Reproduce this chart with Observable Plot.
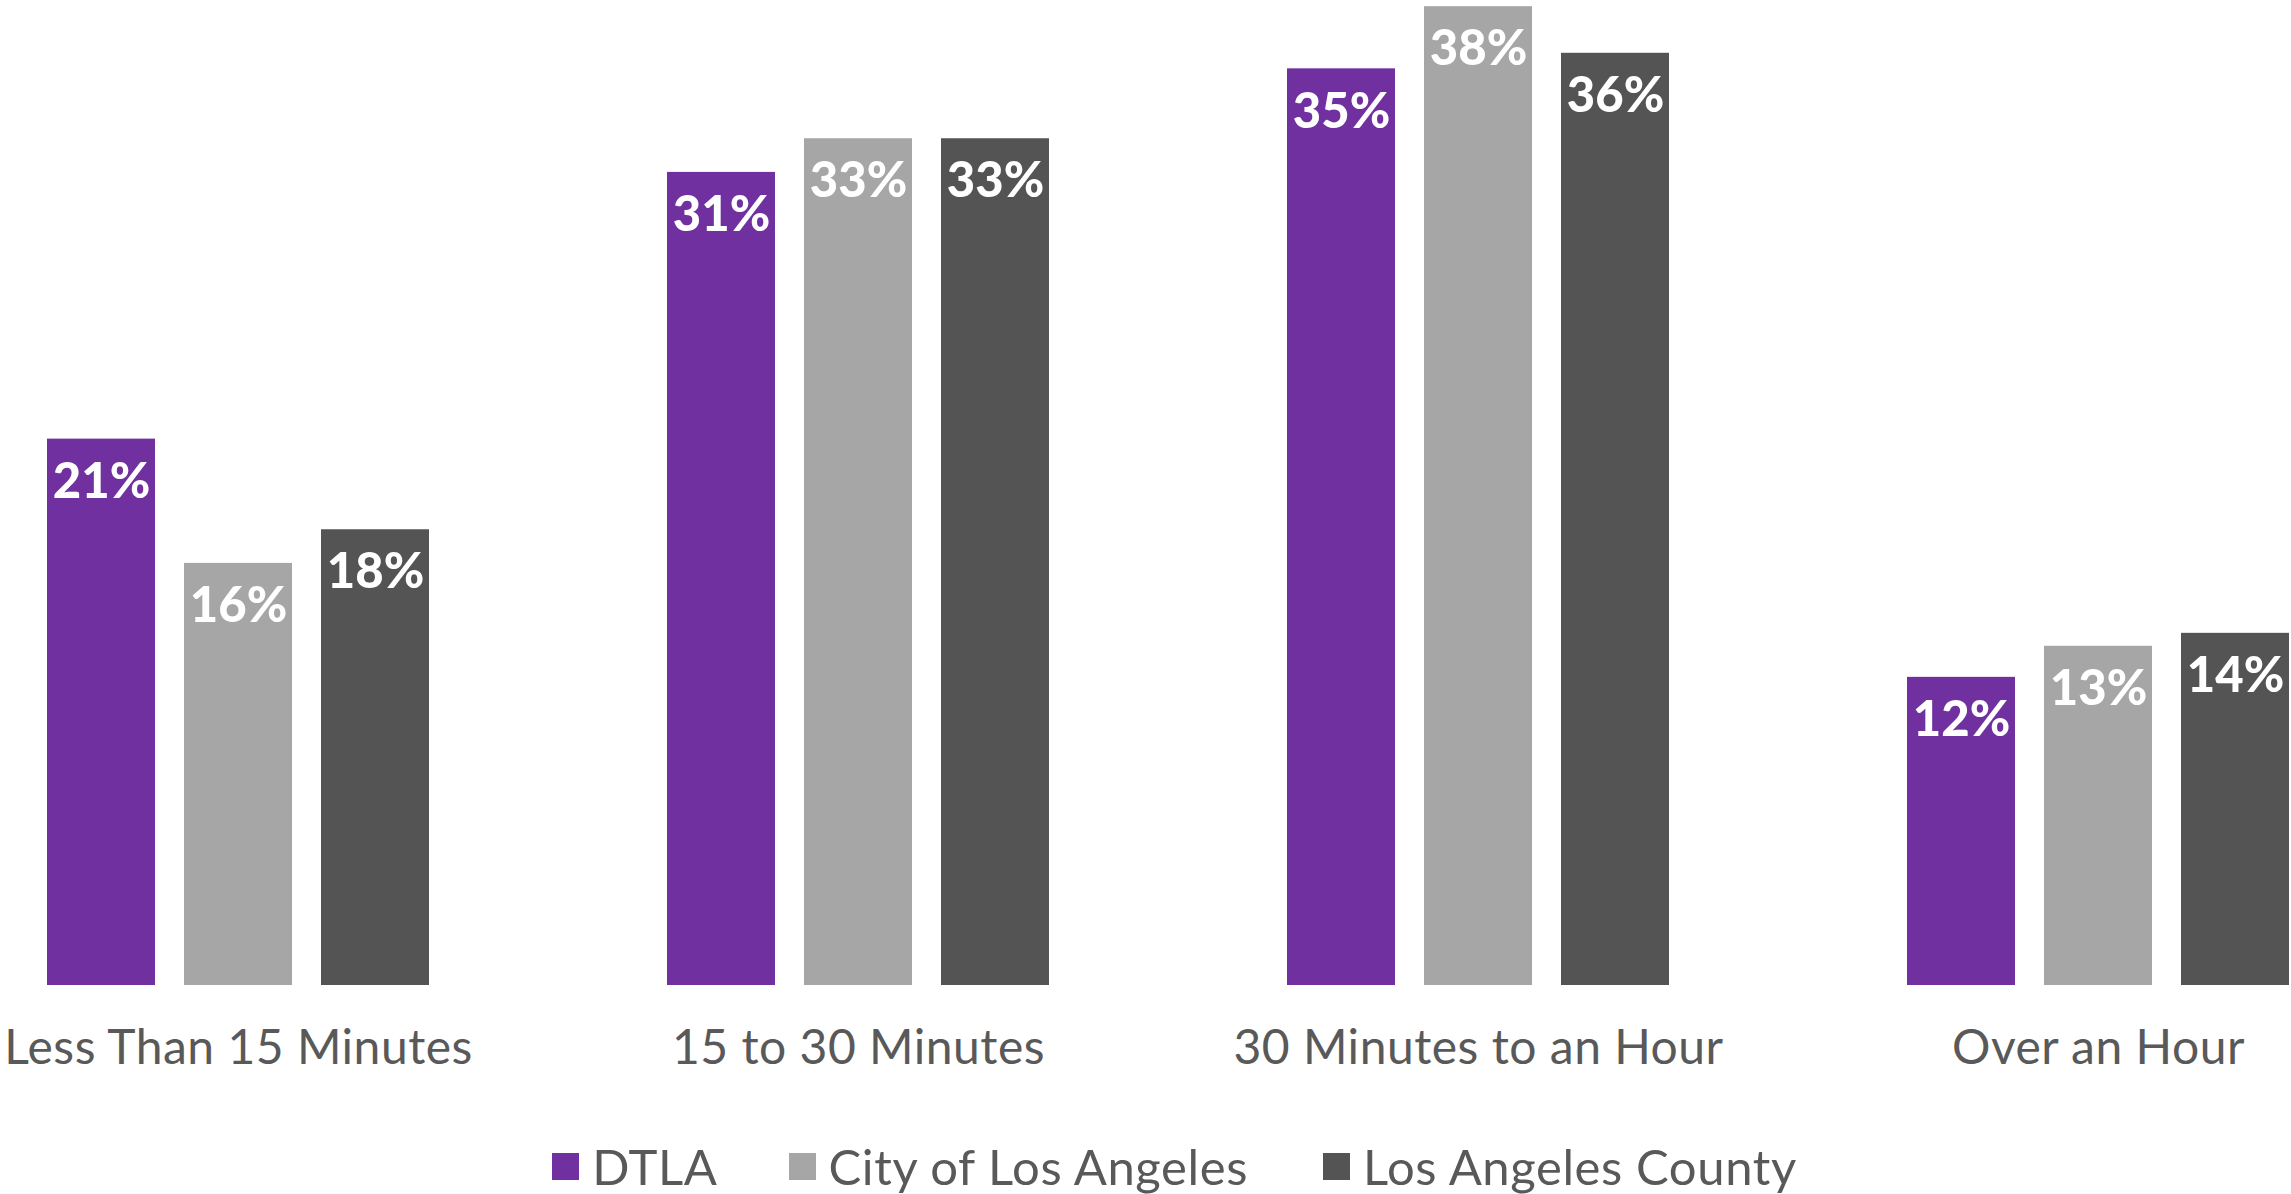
<!DOCTYPE html>
<html>
<head>
<meta charset="utf-8">
<script src="https://cdn.jsdelivr.net/npm/d3@7"></script>
<script src="https://cdn.jsdelivr.net/npm/@observablehq/plot@0.6"></script>
<style>
  html, body { margin: 0; padding: 0; background: #fff; }
  #chart { width: 2291px; }
  .legend { display: flex; justify-content: center; align-items: center; height: 56px; margin-top: 28px; padding-left: 58px;
            font-family: Lato, "Open Sans", sans-serif; font-size: 49px; letter-spacing: 0.6px; color: #595959; }
  .legend .item { display: flex; align-items: center; }
  .legend .item:nth-child(1) { margin-right: 71px; }
  .legend .item:nth-child(2) { margin-right: 75px; }
  .legend .sw { width: 27px; height: 27px; margin-right: 13px; }
</style>
</head>
<body>
<div id="chart"></div>
<script>
const categories = ["Less Than 15 Minutes", "15 to 30 Minutes", "30 Minutes to an Hour", "Over an Hour"];
const series = ["DTLA", "City of Los Angeles", "Los Angeles County"];
const colors = ["#7030A0", "#A6A6A6", "#545454"];

// values
const dtla   = [21.1, 31.4, 35.4, 11.9];
const city   = [16.3, 32.7, 37.8, 13.1];
const county = [17.6, 32.7, 36.0, 13.6];

// labels as printed
const dtlaLabels   = ["21%", "31%", "35%", "12%"];
const cityLabels   = ["16%", "33%", "38%", "13%"];
const countyLabels = ["18%", "33%", "36%", "14%"];

const valuesBySeries = [dtla, city, county];
const labelsBySeries = [dtlaLabels, cityLabels, countyLabels];

const rows = [];
categories.forEach((c, i) => {
  series.forEach((s, j) => {
    rows.push({category: c, series: s, value: valuesBySeries[j][i], label: labelsBySeries[j][i]});
  });
});

const font = "Lato, 'Open Sans', sans-serif";

const chart = Plot.plot({
  width: 2291,
  height: 1110,
  marginLeft: 47,
  marginRight: 2,
  marginTop: 1,
  marginBottom: 125,
  style: {fontFamily: font, background: "#fff"},
  fx: {domain: categories, paddingInner: 0.384, paddingOuter: 0, axis: null, label: null},
  x: {domain: series, paddingInner: 0.212, paddingOuter: 0, axis: null},
  y: {domain: [0, 38], axis: null},
  color: {domain: series, range: colors},
  marks: [
    Plot.barY(rows, {fx: "category", x: "series", y: "value", fill: "series"}),
    Plot.text(rows, {fx: "category", x: "series", y: "value", text: "label",
      fill: "white", fontSize: 49, fontWeight: 900, lineAnchor: "middle", dy: 43,
      style: "letter-spacing: 1px"}),
    Plot.axisFx({anchor: "bottom", tickSize: 0, tickPadding: 44, fontSize: 48, color: "#595959", label: null})
  ]
});

chart.querySelectorAll('[aria-label="fx-axis tick label"] text, [aria-label="fx-axis tick label"]').forEach(el => el.setAttribute("letter-spacing", "0.5"));

const container = document.getElementById("chart");
container.appendChild(chart);

const legend = document.createElement("div");
legend.className = "legend";
series.forEach((s, j) => {
  const item = document.createElement("div");
  item.className = "item";
  const sw = document.createElement("div");
  sw.className = "sw";
  sw.style.background = chart.scale("color").apply(s);
  const t = document.createElement("span");
  t.textContent = s;
  item.appendChild(sw);
  item.appendChild(t);
  legend.appendChild(item);
});
container.appendChild(legend);
</script>
</body>
</html>
